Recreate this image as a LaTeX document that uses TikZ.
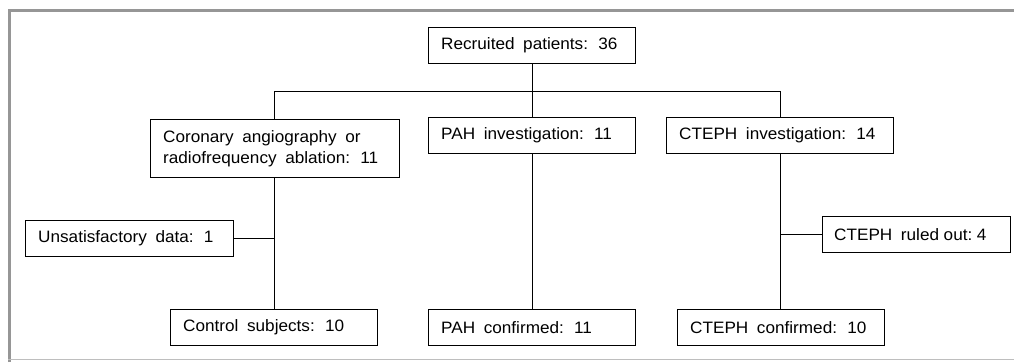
\documentclass[tikz,border=0pt]{standalone}
\usepackage{fontspec}
\setmainfont{Liberation Sans}[FakeStretch=1.04]
\definecolor{framegray}{RGB}{150,150,150}
\definecolor{framelight}{RGB}{190,190,190}
\newcommand{\widespaces}{\spaceskip=8.6pt\relax}
\tikzset{
  box/.style={draw=black, line width=1pt, rectangle, anchor=north west, inner sep=0pt},
  txt/.style={anchor=west, align=left, inner sep=0pt,
    font=\fontsize{16.5}{21}\selectfont},
  link/.style={draw=black, line width=1pt},
}
\newcommand{\bx}[7]{% name, x, y, w, h, pad, text
  \node[box, minimum width=#4, minimum height=#5] (#1) at (#2,#3) {};
  \node[txt] (#1t) at ([xshift=#6]#1.west) {\widespaces #7};}
\begin{document}
\begin{tikzpicture}[x=1pt,y=-1pt]
\useasboundingbox (0,0) rectangle (1014,362);
\fill[white] (0,0) rectangle (1014,362);
% frame
\draw[framegray, line width=3pt] (9.5,362) -- (9.5,10.5) -- (1014,10.5);
\draw[framelight, line width=1.5pt] (8,359.5) -- (1014,359.5);
% boxes
\bx{rec}{428}{27}{207}{36}{13pt}{Recruited patients: 36}
\bx{cor}{150}{119}{249}{58}{13pt}{Coronary angiography or\\\widespaces radiofrequency ablation: 11}
\bx{pahi}{428}{117}{207}{36}{13pt}{PAH investigation: 11}
\bx{cti}{666}{117}{227}{36}{13pt}{CTEPH investigation: 14}
\bx{uns}{25}{220}{208}{36}{13pt}{Unsatisfactory data: 1}
\bx{ctr}{170}{309}{207}{36}{13pt}{Control subjects: 10}
\bx{pahc}{428}{309}{207}{36}{13pt}{PAH confirmed: 11}
\bx{ctc}{677}{309}{207}{36}{13pt}{CTEPH confirmed: 10}
\bx{cro}{822}{216}{188}{36}{12pt}{CTEPH ruled\hspace{4.6pt}out:\hspace{4.6pt}4}
% connectors
\coordinate (hl) at (274,91);
\coordinate (hm) at (532,91);
\coordinate (hr) at (780,91);
\draw[link] (rec.south -| hm) -- (hm);
\draw[link] (hl) -- (hr);
\draw[link] (hl) -- (hl |- cor.north);
\draw[link] (hm) -- (hm |- pahi.north);
\draw[link] (hr) -- (hr |- cti.north);
\draw[link] (cor.south -| hl) -- (hl |- ctr.north);
\draw[link] (pahi.south -| hm) -- (hm |- pahc.north);
\draw[link] (cti.south -| hr) -- (hr |- ctc.north);
\draw[link] (uns.east) -- (uns.east -| hl);
\draw[link] (cro.west) -- (cro.west -| hr);
\end{tikzpicture}
\end{document}
